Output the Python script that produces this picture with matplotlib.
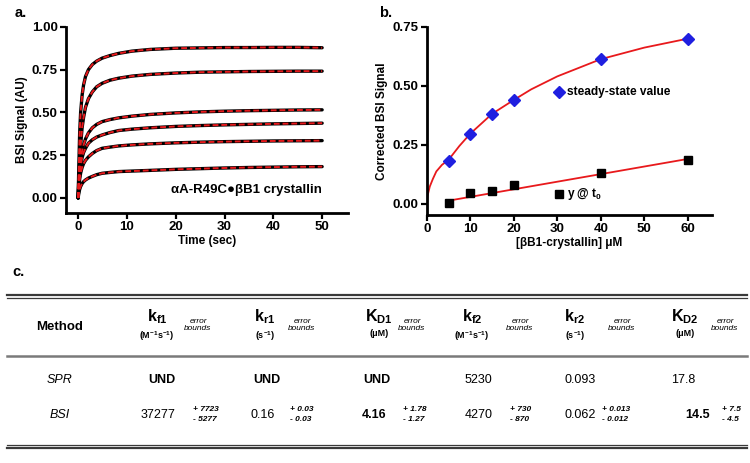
import matplotlib
matplotlib.use("Agg")
import matplotlib.pyplot as plt
import numpy as np

plt.rcParams['font.family'] = ['Liberation Sans', 'DejaVu Sans']
plt.rcParams['mathtext.fontset'] = 'custom'
plt.rcParams['mathtext.rm'] = 'Liberation Sans'
plt.rcParams['mathtext.bf'] = 'Liberation Sans:bold'
plt.rcParams['mathtext.it'] = 'Liberation Sans:italic'

# panel a: association traces
t = [0, 0.1, 0.3, 0.5, 0.8, 1.1, 1.5, 2.1, 2.9, 3.8, 4.9, 6.5, 8.3, 11,
     14.75, 20, 25, 30, 35, 40, 45, 50]
trace1 = [0, 0.15, 0.38, 0.50, 0.60, 0.66, 0.71, 0.75, 0.78, 0.80, 0.817, 0.832,
          0.845, 0.858, 0.868, 0.875, 0.877, 0.879, 0.879, 0.88, 0.88, 0.878]
trace2 = [0, 0.10, 0.22, 0.31, 0.41, 0.47, 0.53, 0.58, 0.62, 0.65, 0.67, 0.688,
          0.70, 0.712, 0.722, 0.73, 0.735, 0.737, 0.739, 0.74, 0.741, 0.741]
trace3 = [0, 0.07, 0.16, 0.22, 0.275, 0.31, 0.345, 0.38, 0.41, 0.43, 0.446, 0.458,
          0.468, 0.478, 0.488, 0.497, 0.503, 0.507, 0.51, 0.512, 0.514, 0.515]
trace4 = [0, 0.06, 0.14, 0.19, 0.235, 0.265, 0.29, 0.32, 0.34, 0.356, 0.368, 0.382,
          0.394, 0.402, 0.41, 0.418, 0.423, 0.427, 0.43, 0.433, 0.435, 0.437]
trace5 = [0, 0.05, 0.11, 0.145, 0.178, 0.20, 0.22, 0.24, 0.26, 0.277, 0.29, 0.297,
          0.304, 0.31, 0.316, 0.322, 0.326, 0.329, 0.331, 0.333, 0.334, 0.335]
trace6 = [0, 0.025, 0.05, 0.067, 0.084, 0.095, 0.105, 0.116, 0.126, 0.136, 0.144,
          0.149, 0.154, 0.157, 0.161, 0.167, 0.171, 0.175, 0.178, 0.18, 0.182, 0.183]
traces = [trace1, trace2, trace3, trace4, trace5, trace6]

# panel b
conc = [5, 10, 15, 20, 40, 60]
steady = [0.182, 0.295, 0.381, 0.441, 0.613, 0.699]
y_t0 = [0.003, 0.045, 0.052, 0.078, 0.130, 0.186]
fit_x = [0, 0.2, 0.7, 1.4, 2.2, 3.5, 5, 7.5, 10, 15, 20, 24, 30, 40, 50, 60]
fit_steady = [0.01, 0.035, 0.073, 0.105, 0.137, 0.165, 0.186, 0.245, 0.297, 0.381,
              0.44, 0.485, 0.54, 0.613, 0.662, 0.70]
fit_t0_x = [5, 60]
fit_t0 = [0.013, 0.19]

# panel c table
col_syms = [r'$\mathbf{k_{f1}}$', r'$\mathbf{k_{r1}}$', r'$\mathbf{K_{D1}}$',
            r'$\mathbf{k_{f2}}$', r'$\mathbf{k_{r2}}$', r'$\mathbf{K_{D2}}$']
col_units = [r'$\mathbf{(M^{-1}s^{-1})}$', r'$\mathbf{(s^{-1})}$', '(μM)',
             r'$\mathbf{(M^{-1}s^{-1})}$', r'$\mathbf{(s^{-1})}$', '(μM)']
spr_vals = ['UND', 'UND', 'UND', '5230', '0.093', '17.8']
spr_bold = [True, True, True, False, False, False]
bsi_vals = ['37277', '0.16', '4.16', '4270', '0.062', '14.5']
bsi_bold = [False, False, True, False, False, True]
bsi_plus = ['+ 7723', '+ 0.03', '+ 1.78', '+ 730', '+ 0.013', '+ 7.5']
bsi_minus = ['- 5277', '- 0.03', '- 1.27', '- 870', '- 0.012', '- 4.5']

RED = '#e8191c'
BLUE = '#1f1fe0'

fig = plt.figure(figsize=(7.5, 4.63), dpi=100)


def style(ax):
    for s in ['top', 'right']:
        ax.spines[s].set_visible(False)
    for s in ['left', 'bottom']:
        ax.spines[s].set_linewidth(2)
    ax.tick_params(direction='out', length=4, width=1.6, labelsize=9.5, pad=2)
    for lab in ax.get_xticklabels() + ax.get_yticklabels():
        lab.set_fontweight('bold')


# a.
ax1 = fig.add_axes([0.088, 0.540, 0.376, 0.402])
for tr in traces:
    ax1.plot(t, tr, color='black', lw=2.4, solid_capstyle='round', zorder=2)
    ax1.plot(t, tr, color=RED, lw=1.4, ls=(0, (3, 1.5)), zorder=3)
ax1.set_xlim(-2.5, 55.3)
ax1.set_ylim(-0.088, 1.0)
ax1.set_xticks(range(0, 51, 10))
ax1.set_yticks([0, 0.25, 0.5, 0.75, 1.0])
ax1.set_yticklabels(['%.2f' % v for v in [0, 0.25, 0.5, 0.75, 1.0]])
style(ax1)
ax1.set_xlabel('Time (sec)', fontsize=8.5, fontweight='bold', labelpad=1)
ax1.set_ylabel('BSI Signal (AU)', fontsize=8.5, fontweight='bold', labelpad=3)
ax1.text(50, 0.047, 'αA-R49C●βB1 crystallin', ha='right', va='center',
         fontsize=9.5, fontweight='bold')

# b.
ax2 = fig.add_axes([0.569, 0.536, 0.380, 0.406])
ax2.plot(fit_x, fit_steady, color=RED, lw=1.3, zorder=2)
ax2.plot(fit_t0_x, fit_t0, color=RED, lw=1.3, zorder=2)
ax2.plot(conc, steady, ls='none', marker='D', ms=6.5, color=BLUE, zorder=3)
ax2.plot(conc, y_t0, ls='none', marker='s', ms=6, color='black', zorder=3)
ax2.plot([30.3], [0.475], ls='none', marker='D', ms=6.5, color=BLUE)
ax2.text(32.3, 0.475, 'steady-state value', va='center', fontsize=8.6,
         fontweight='bold')
ax2.plot([30.3], [0.042], ls='none', marker='s', ms=6, color='black')
ax2.text(32.3, 0.042, r'y @ t$_\mathbf{0}$', va='center', fontsize=8.6,
         fontweight='bold')
ax2.set_xlim(0, 65.5)
ax2.set_ylim(-0.047, 0.75)
ax2.set_xticks(range(0, 61, 10))
ax2.set_yticks([0, 0.25, 0.5, 0.75])
ax2.set_yticklabels(['%.2f' % v for v in [0, 0.25, 0.5, 0.75]])
style(ax2)
ax2.set_xlabel('[βB1-crystallin] μM', fontsize=8.5, fontweight='bold', labelpad=1)
ax2.set_ylabel('Corrected BSI Signal', fontsize=8.5, fontweight='bold', labelpad=3)

# c. table, drawn in pixel coordinates of the whole figure
axt = fig.add_axes([0, 0, 1, 1], zorder=-1)
axt.set_xlim(0, 750)
axt.set_ylim(463, 0)
axt.axis('off')

axt.text(15, 13, 'a.', fontsize=10.5, fontweight='bold', va='center')
axt.text(379, 13, 'b.', fontsize=10.5, fontweight='bold', va='center')
axt.text(12, 272, 'c.', fontsize=10.5, fontweight='bold', va='center')

L, R = 7, 747
axt.plot([L, R], [295, 295], color='#3a3a3a', lw=1.6)
axt.plot([L, R], [298, 298], color='#3a3a3a', lw=0.9)
axt.plot([L, R], [356, 356], color='#7a7a7a', lw=1.8)
axt.plot([L, R], [444.5, 444.5], color='#3a3a3a', lw=0.9)
axt.plot([L, R], [447.5, 447.5], color='#3a3a3a', lw=1.6)

sym_x = [157, 265, 379, 472, 575, 685]
err_lab_x = [198, 302, 412, 520, 622, 725]
spr_x = [162, 267, 377, 478, 580, 683]
bsi_x = [158, 263, 374, 479, 580, 698]
err_x = [193, 290, 403, 510, 602, 722]

axt.text(60, 327, 'Method', ha='center', va='center', fontsize=9.5,
         fontweight='bold')
axt.text(60, 380, 'SPR', ha='center', va='center', fontsize=9, style='italic')
axt.text(60, 415, 'BSI', ha='center', va='center', fontsize=9, style='italic')

for i in range(6):
    axt.text(sym_x[i], 326, col_syms[i], ha='center', va='bottom', fontsize=11.5)
    axt.text(sym_x[i], 329, col_units[i], ha='center', va='top', fontsize=6.5,
             fontweight='bold')
    axt.text(err_lab_x[i], 325, 'error\nbounds', ha='center', va='center',
             fontsize=6, style='italic', linespacing=1.0)
    axt.text(spr_x[i], 380, spr_vals[i], ha='center', va='center', fontsize=9,
             fontweight='bold' if spr_bold[i] else 'normal')
    axt.text(bsi_x[i], 415, bsi_vals[i], ha='center', va='center', fontsize=9,
             fontweight='bold' if bsi_bold[i] else 'normal')
    axt.text(err_x[i], 409.5, bsi_plus[i], ha='left', va='center', fontsize=6,
             style='italic', fontweight='bold')
    axt.text(err_x[i], 419.5, bsi_minus[i], ha='left', va='center', fontsize=6,
             style='italic', fontweight='bold')

fig.savefig('out.png', dpi=100)
